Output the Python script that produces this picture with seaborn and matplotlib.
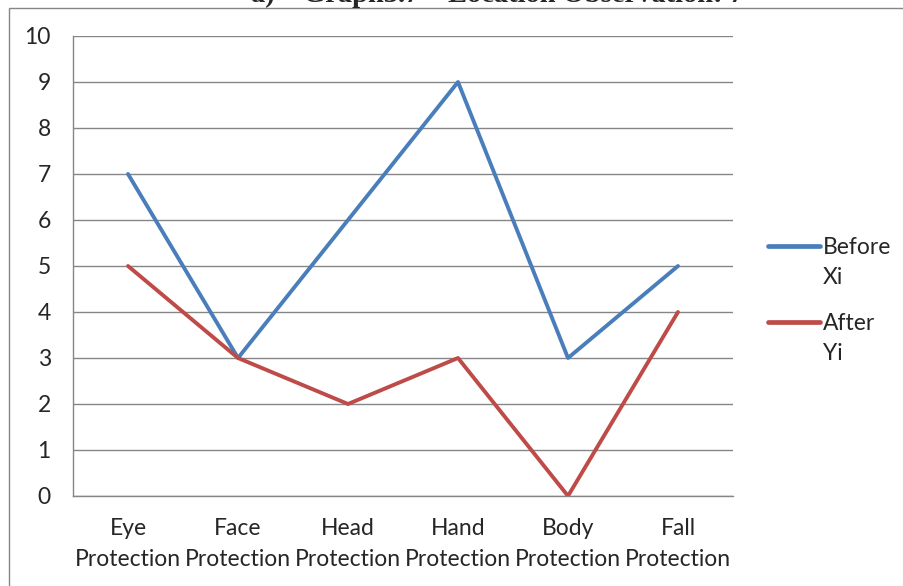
import matplotlib
matplotlib.use("Agg")
import matplotlib.pyplot as plt
import seaborn as sns
import pandas as pd
from matplotlib.patches import Rectangle
from matplotlib.lines import Line2D

categories = ["Eye\nProtection", "Face\nProtection", "Head\nProtection",
              "Hand\nProtection", "Body\nProtection", "Fall\nProtection"]
before_xi = [7, 3, 6, 9, 3, 5]
after_yi = [5, 3, 2, 3, 0, 4]
series_names = ["Before\nXi", "After\nYi"]
colors = ["#4A7EBB", "#BE4B48"]
title_text = "a)    Graph3.7 \u2013 Location Observation: 7"

df = pd.DataFrame({
    "pos": list(range(len(categories))) * 2,
    "value": before_xi + after_yi,
    "series": [series_names[0]] * len(categories) + [series_names[1]] * len(categories),
})

sns.set_style("white")
plt.rcParams["font.family"] = ["Lato", "DejaVu Sans"]

W, H = 904, 586
fig = plt.figure(figsize=(W / 100, H / 100), dpi=100)
ax = fig.add_axes([73 / W, 1 - 496 / H, 660 / W, 460 / H])

sns.lineplot(data=df, x="pos", y="value", hue="series", palette=colors,
             linewidth=2.8, ax=ax, legend=False, sort=False)

grey = "#868686"
fs = 16.5
ax.set_xlim(-0.5, len(categories) - 0.5)
ax.set_ylim(0, 10)
ax.set_yticks(range(0, 11))
ax.yaxis.grid(True, color=grey, linewidth=1.0)
ax.set_axisbelow(True)
ax.set_xticks([i - 0.5 for i in range(len(categories) + 1)])
ax.set_xticklabels([])
ax.set_xticks(range(len(categories)), minor=True)
ax.set_xticklabels(categories, minor=True, fontsize=fs, linespacing=1.6)
ax.tick_params(axis="x", which="major", direction="out", length=5, color=grey, width=1)
ax.tick_params(axis="x", which="minor", length=0, pad=15.5)
ax.tick_params(axis="y", direction="out", length=5, color=grey, width=1,
               labelsize=fs, pad=11)
for side in ["top", "right"]:
    ax.spines[side].set_visible(False)
for side in ["left", "bottom"]:
    ax.spines[side].set_color(grey)
    ax.spines[side].set_linewidth(1.0)
ax.set_xlabel("")
ax.set_ylabel("")

# Legend: a line key beside the first line of each two-line label
legend_rows = [246, 322]
for name, color, row in zip(series_names, colors, legend_rows):
    y = 1 - row / H
    fig.add_artist(Line2D([768 / W, 820 / W], [y, y], transform=fig.transFigure,
                          color=color, linewidth=3.4, solid_capstyle="round"))
    fig.text(823 / W, 1 - (row - 9) / H, name, ha="left", va="top",
             fontsize=fs, linespacing=1.5)

# Chart area border
fig.patches.append(Rectangle((9 / W, -0.05), 1.0, 1 - 8 / H + 0.05,
                             transform=fig.transFigure, fill=False,
                             edgecolor=grey, linewidth=1.0))

# Heading above the chart, running past the top edge
fig.text(497 / W, 1 - 2 / H, title_text, ha="center", va="baseline",
         fontsize=20.5, fontweight="bold", family=["Liberation Serif", "DejaVu Serif"])

fig.savefig("out.png", dpi=100)
